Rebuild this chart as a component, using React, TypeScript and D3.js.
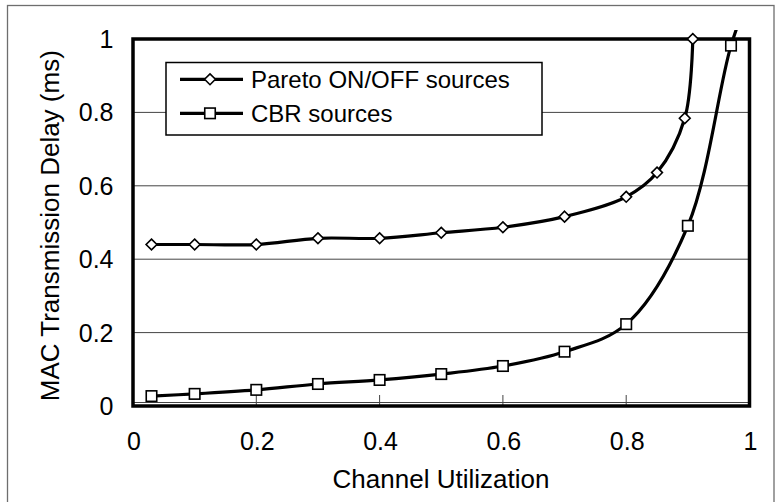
import React from "react";
import * as d3 from "d3";

const paretoX = [0.03, 0.1, 0.2, 0.3, 0.4, 0.5, 0.6, 0.7, 0.8, 0.85, 0.895, 0.908];
const paretoY = [0.44, 0.44, 0.44, 0.457, 0.457, 0.472, 0.487, 0.516, 0.57, 0.636, 0.784, 1.0];
const cbrX = [0.03, 0.1, 0.2, 0.3, 0.4, 0.5, 0.6, 0.7, 0.8, 0.9, 0.97, 1.0];
const cbrY = [0.027, 0.033, 0.044, 0.06, 0.071, 0.087, 0.109, 0.148, 0.223, 0.491, 0.982, 1.12];
const xTicks = [0, 0.2, 0.4, 0.6, 0.8, 1];
const yTicks = [0, 0.2, 0.4, 0.6, 0.8, 1];
const seriesNames = ["Pareto ON/OFF sources", "CBR sources"];
const xTitle = "Channel Utilization";
const yTitle = "MAC Transmission Delay (ms)";

const W = 775;
const H = 502;
const L = 133, R = 749.5, T = 39, B = 406;
const FONT = "Arial, 'Liberation Sans', sans-serif";

export default function App() {
  const x = d3.scaleLinear().domain([0, 1]).range([L, R]);
  const y = d3.scaleLinear().domain([0, 1]).range([B, T]);
  const line = d3
    .line<[number, number]>()
    .x((d) => x(d[0]))
    .y((d) => y(d[1]))
    .curve(d3.curveCatmullRom.alpha(0.5));
  const pareto: [number, number][] = paretoX.map((v, i) => [v, paretoY[i]]);
  const cbr: [number, number][] = cbrX.map((v, i) => [v, cbrY[i]]);
  const ds = 5.4;
  const sq = 10.5;
  const diamond = (cx: number, cy: number) =>
    `M${cx},${cy - ds}L${cx + ds},${cy}L${cx},${cy + ds}L${cx - ds},${cy}Z`;

  return (
    <svg
      width={W}
      height={H}
      style={{ position: "absolute", left: 0, top: 0, background: "#fff" }}
      fontFamily={FONT}
    >
      <defs>
        <clipPath id="plotclip">
          <rect x={L - 2} y={30} width={R - L + 4} height={B - 30 + 2} />
        </clipPath>
      </defs>
      <rect x={7.5} y={5.5} width={766.5} height={500} fill="#fff" stroke="#6e6e6e" strokeWidth={1.3} />

      {/* gridlines */}
      {yTicks.filter((t) => t > 0 && t < 1).map((t) => (
        <line key={"g" + t} x1={L} x2={R} y1={y(t)} y2={y(t)} stroke="#444" strokeWidth={1} />
      ))}
      {/* x tick marks (inside) */}
      {xTicks.filter((t) => t > 0 && t < 1).map((t) => (
        <line key={"xt" + t} x1={x(t)} x2={x(t)} y1={B - 11} y2={B} stroke="#444" strokeWidth={1} />
      ))}
      <line x1={L} x2={R} y1={B - 3.5} y2={B - 3.5} stroke="#444" strokeWidth={1} />

      {/* plot border */}
      <rect x={L} y={T} width={R - L} height={B - T} fill="none" stroke="#000" strokeWidth={3.5} />

      {/* y tick labels */}
      {yTicks.map((t) => (
        <text key={"yl" + t} x={113.5} y={y(t) + 9} textAnchor="end" fontSize={25} fill="#000">
          {String(t)}
        </text>
      ))}
      {/* x tick labels */}
      {xTicks.map((t) => (
        <text key={"xl" + t} x={x(t) + 1} y={449.5} textAnchor="middle" fontSize={25} fill="#000">
          {String(t)}
        </text>
      ))}
      <text x={441} y={487.5} textAnchor="middle" fontSize={26} fill="#000">
        {xTitle}
      </text>
      <text
        transform={`translate(58.5,225.7) rotate(-90)`}
        textAnchor="middle"
        fontSize={26}
        fill="#000"
      >
        {yTitle}
      </text>

      {/* series */}
      <g clipPath="url(#plotclip)">
        <path d={line(pareto) || ""} fill="none" stroke="#000" strokeWidth={3.2} strokeLinejoin="round" />
        <path d={line(cbr) || ""} fill="none" stroke="#000" strokeWidth={3.2} strokeLinejoin="round" />
        {pareto.map((d, i) => (
          <path key={"pm" + i} d={diamond(x(d[0]), y(d[1]))} fill="#fff" stroke="#000" strokeWidth={1.6} />
        ))}
        {cbr.map((d, i) => (
          <rect
            key={"cm" + i}
            x={x(d[0]) - sq / 2}
            y={y(d[1]) - sq / 2}
            width={sq}
            height={sq}
            fill="#fff"
            stroke="#000"
            strokeWidth={1.6}
          />
        ))}
      </g>

      {/* legend */}
      <rect x={166} y={62.5} width={376} height={72.5} fill="#fff" stroke="#000" strokeWidth={1.5} />
      {seriesNames.map((name, i) => {
        const cy = 79.3 + i * 34;
        return (
          <g key={"lg" + i}>
            <line x1={180} x2={243} y1={cy} y2={cy} stroke="#000" strokeWidth={3.2} />
            {i === 0 ? (
              <path d={diamond(210, cy)} fill="#fff" stroke="#000" strokeWidth={1.6} />
            ) : (
              <rect x={210 - sq / 2} y={cy - sq / 2} width={sq} height={sq} fill="#fff" stroke="#000" strokeWidth={1.6} />
            )}
            <text x={251} y={cy + 8.6} fontSize={24} fill="#000">
              {name}
            </text>
          </g>
        );
      })}
    </svg>
  );
}
